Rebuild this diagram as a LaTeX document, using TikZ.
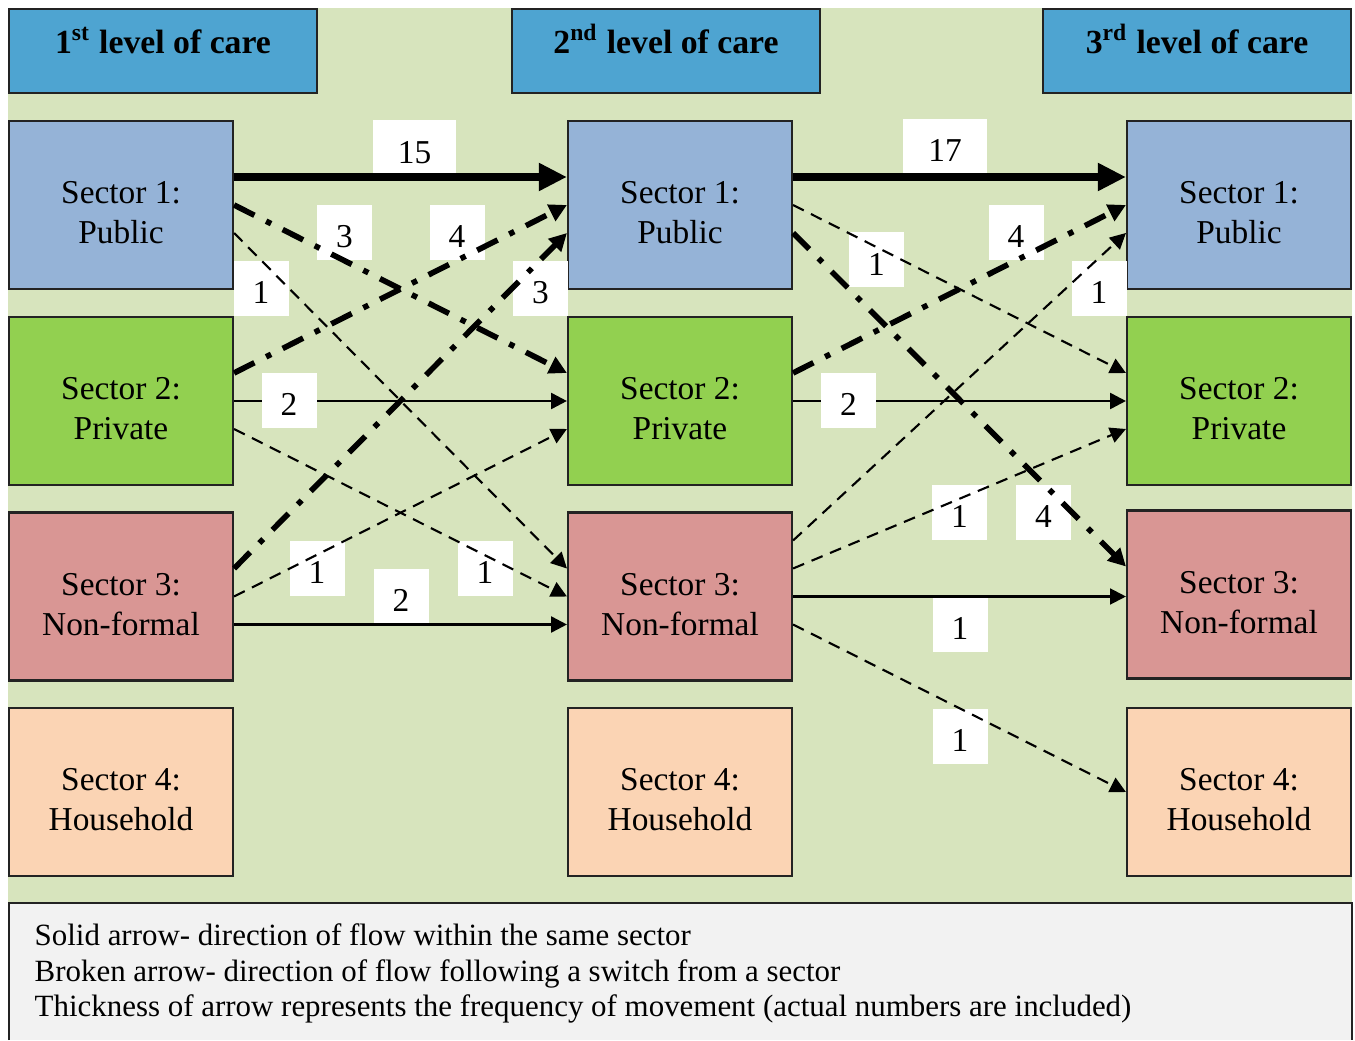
\documentclass[tikz,border=0pt]{standalone}
\usepackage{fontspec}
\setmainfont{Liberation Serif}
\usetikzlibrary{arrows.meta,calc}
\definecolor{bgc}{RGB}{215,228,189}
\definecolor{hdrc}{RGB}{78,164,209}
\definecolor{pubc}{RGB}{149,179,215}
\definecolor{privc}{RGB}{146,208,80}
\definecolor{nfc}{RGB}{217,150,148}
\definecolor{hhc}{RGB}{251,212,180}
\definecolor{legc}{RGB}{242,242,242}
\definecolor{edgec}{RGB}{35,35,35}
\begin{document}
\begin{tikzpicture}[x=1cm,y=1cm,
  secbox/.style={draw=edgec, line width=0.6pt, minimum width=2.24cm, minimum height=1.68cm, inner sep=0pt},
  sectxt/.style={align=center, font=\fontsize{9.5}{11.4}\selectfont, yshift=-0.08cm},
  pub/.style={secbox, fill=pubc},
  priv/.style={secbox, fill=privc},
  nform/.style={secbox, fill=nfc},
  house/.style={secbox, fill=hhc},
  hdr/.style={draw=edgec, line width=0.6pt, fill=hdrc, minimum width=3.08cm, minimum height=0.84cm, inner sep=0pt},
  hdrtxt/.style={font=\bfseries\fontsize{9.6}{12}\selectfont, text height=9pt, text depth=2pt, inner sep=0pt, yshift=0.1cm},
  num/.style={fill=white, minimum width=0.55cm, minimum height=0.55cm, inner sep=0pt, text height=8.6pt, text depth=0pt, font=\fontsize{9.5}{11}\selectfont},
  solidarr/.style={-{Triangle[length=4.5pt,width=4.5pt]}, line width=0.75pt},
  thinarr/.style={-{Triangle[length=4.5pt,width=4.5pt]}, line width=0.6pt},
  thickarr/.style={-{Triangle[length=8pt,width=7.5pt]}, line width=2.3pt},
  dasharr/.style={-{Triangle[length=4.5pt,width=4.5pt]}, line width=0.6pt, dash pattern=on 3.4pt off 2.3pt},
  dotarr/.style={-{Triangle[length=5pt,width=5pt]}, line width=1.6pt, dash pattern=on 6.5pt off 3.7pt on 1.6pt off 3.7pt},
  legtxt/.style={anchor=base west, inner sep=0pt, font=\fontsize{8.8}{10.5}\selectfont}
]
\useasboundingbox (0,0) rectangle (13.55,-10.40);
% background
\fill[bgc] (0.08,-0.08) rectangle (13.52,-9.03);
% headers
\node[hdr, label={[hdrtxt]center:1\textsuperscript{st} level of care}] (h1) at (1.63,-0.51) {};
\node[hdr, label={[hdrtxt]center:2\textsuperscript{nd} level of care}] (h2) at (6.66,-0.51) {};
\node[hdr, label={[hdrtxt]center:3\textsuperscript{rd} level of care}] (h3) at (11.97,-0.51) {};
% column 1
\node[pub, label={[sectxt]center:Sector 1:\\Public}] (a1) at (1.21,-2.05) {};
\node[priv, label={[sectxt]center:Sector 2:\\Private}] (a2) at (1.21,-4.01) {};
\node[nform, label={[sectxt]center:Sector 3:\\Non-formal}] (a3) at (1.21,-5.965) {};
\node[house, label={[sectxt]center:Sector 4:\\Household}] (a4) at (1.21,-7.92) {};
% column 2
\node[pub, label={[sectxt]center:Sector 1:\\Public}] (b1) at (6.80,-2.05) {};
\node[priv, label={[sectxt]center:Sector 2:\\Private}] (b2) at (6.80,-4.01) {};
\node[nform, label={[sectxt]center:Sector 3:\\Non-formal}] (b3) at (6.80,-5.965) {};
\node[house, label={[sectxt]center:Sector 4:\\Household}] (b4) at (6.80,-7.92) {};
% column 3
\node[pub, label={[sectxt]center:Sector 1:\\Public}] (c1) at (12.39,-2.05) {};
\node[priv, label={[sectxt]center:Sector 2:\\Private}] (c2) at (12.39,-4.01) {};
\node[nform, label={[sectxt]center:Sector 3:\\Non-formal}] (c3) at (12.39,-5.945) {};
\node[house, label={[sectxt]center:Sector 4:\\Household}] (c4) at (12.39,-7.92) {};
% number labels (under the broken arrows)
\node[num, minimum width=0.83cm] (l1) at (4.145,-1.48) {15};
\node[num] (l2) at (3.445,-2.325) {3};
\node[num] (l3) at (4.57,-2.325) {4};
\node[num] (l4) at (2.61,-2.885) {1};
\node[num] (l5) at (5.405,-2.885) {3};
\node[num] (l7) at (4.85,-5.685) {1};
\node[num] (l8) at (3.17,-5.685) {1};
\node[num] (l9) at (4.01,-5.965) {2};
\node[num, minimum width=0.84cm] (l10) at (9.45,-1.465) {17};
\node[num] (l11) at (8.765,-2.60) {1};
\node[num] (l12) at (10.435,-5.125) {4};
\node[num] (l13) at (10.16,-2.325) {4};
\node[num] (l14) at (10.99,-2.885) {1};
\node[num] (l16) at (9.595,-5.125) {1};
\node[num] (l17) at (9.60,-6.245) {1};
\node[num] (l18) at (9.60,-7.36) {1};
% connectors level 1 -> level 2
\draw[thickarr] ([yshift=0.28cm]a1.east) -- ([yshift=0.28cm]b1.west);
\draw[dotarr] (a1.east) -- ([yshift=0.28cm]b2.west);
\draw[dotarr] ([yshift=0.28cm]a2.east) -- (b1.west);
\draw[dasharr] ([yshift=-0.28cm]a1.east) -- ([yshift=0.28cm]b3.west);
\draw[dotarr] ([yshift=0.28cm]a3.east) -- ([yshift=-0.28cm]b1.west);
\draw[solidarr] (a2.east) -- (b2.west);
\draw[dasharr] ([yshift=-0.28cm]a2.east) -- (b3.west);
\draw[dasharr] (a3.east) -- ([yshift=-0.28cm]b2.west);
\draw[solidarr] ([yshift=-0.28cm]a3.east) -- ([yshift=-0.28cm]b3.west);
% connectors level 2 -> level 3
\draw[thickarr] ([yshift=0.28cm]b1.east) -- ([yshift=0.28cm]c1.west);
\draw[dasharr] (b1.east) -- ([yshift=0.28cm]c2.west);
\draw[dotarr] ([yshift=-0.28cm]b1.east) -- ([yshift=0.28cm]c3.west);
\draw[dotarr] ([yshift=0.28cm]b2.east) -- (c1.west);
\draw[dasharr] ([yshift=0.56cm]b3.east) -- ([yshift=-0.28cm]c1.west);
\draw[solidarr] (b2.east) -- (c2.west);
\draw[dasharr] ([yshift=0.28cm]b3.east) -- ([yshift=-0.28cm]c2.west);
\draw[thinarr] (b3.east) -- (c3.west |- b3.east);
\draw[dasharr] ([yshift=-0.28cm]b3.east) -- (c4.west);
% number labels that sit over the solid arrows
\node[num] (l6) at (2.89,-4.005) {2};
\node[num] (l15) at (8.485,-4.005) {2};
% legend
\fill[legc] (0.09,-9.03) rectangle (13.52,-10.40);
\draw[edgec, line width=0.6pt] (0.09,-10.40) -- (0.09,-9.03) -- (13.52,-9.03) -- (13.52,-10.40);
\node[legtxt] (t1) at (0.34,-9.45) {Solid arrow- direction of flow within the same sector};
\node[legtxt] (t2) at (0.34,-9.81) {Broken arrow- direction of flow following a switch from a sector};
\node[legtxt] (t3) at (0.34,-10.16) {Thickness of arrow represents the frequency of movement (actual numbers are included)};
\end{tikzpicture}
\end{document}
